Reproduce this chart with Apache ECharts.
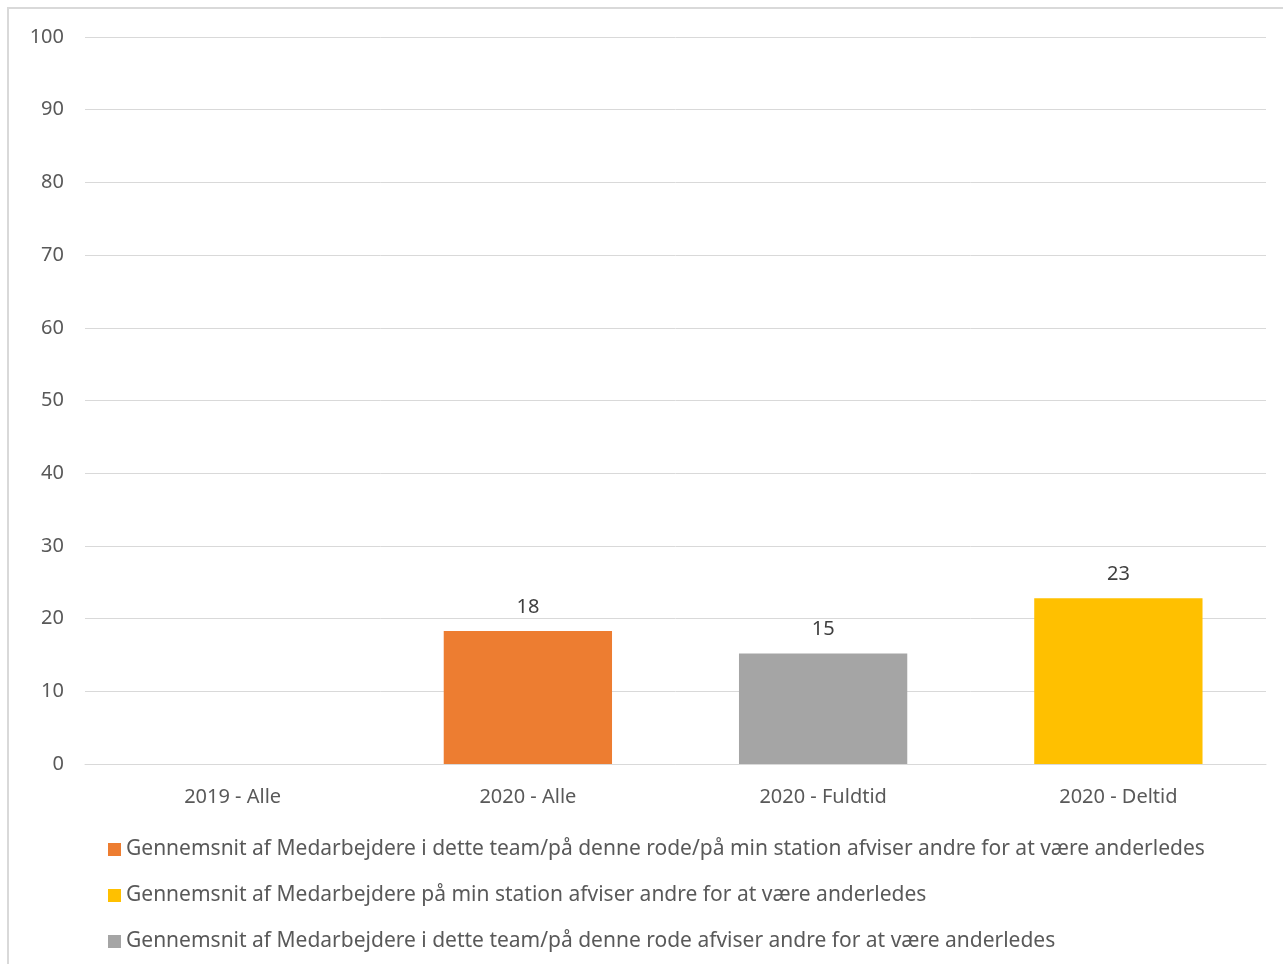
<!DOCTYPE html>
<html>
<head>
<meta charset="utf-8">
<script src="https://cdn.jsdelivr.net/npm/echarts@6/dist/echarts.min.js"></script>
<style>
html,body{margin:0;padding:0;background:#fff;}
#chart{position:absolute;left:0;top:0;width:1283px;height:964px;}
#frame{position:absolute;left:7px;top:7px;width:1276px;height:957px;border-left:2px solid #d9d9d9;border-top:2px solid #d9d9d9;box-sizing:border-box;pointer-events:none;}
</style>
</head>
<body>
<div id="chart"></div>
<div id="frame"></div>
<script>
const categories = ['2019 - Alle', '2020 - Alle', '2020 - Fuldtid', '2020 - Deltid'];
const seriesNames = [
  'Gennemsnit af Medarbejdere i dette team/på denne rode/på min station afviser andre for at være anderledes',
  'Gennemsnit af Medarbejdere på min station afviser andre for at være anderledes',
  'Gennemsnit af Medarbejdere i dette team/på denne rode afviser andre for at være anderledes'
];
const valuesTeamRodeStation = [null, 18.3, null, null];
const valuesStation = [null, null, null, 22.8];
const valuesTeamRode = [null, null, 15.2, null];
const colors = ['#ED7D31', '#FFC000', '#A5A5A5'];
const yTicks = {min: 0, max: 100, interval: 10};

const font = 'Noto Sans';
const textColor = '#595959';
const seriesData = [valuesTeamRodeStation, valuesStation, valuesTeamRode];

const chart = echarts.init(document.getElementById('chart'));
chart.setOption({
  animation: false,
  textStyle: {fontFamily: font},
  grid: {left: 85, right: 17, top: 37, bottom: 200, containLabel: false},
  legend: {
    orient: 'vertical', left: 103, top: 830,
    itemWidth: 13, itemHeight: 13, itemGap: 17,
    icon: 'rect',
    textStyle: {fontFamily: font, fontSize: 21, color: textColor, lineHeight: 29},
    data: seriesNames
  },
  xAxis: {
    type: 'category', data: categories,
    axisLine: {show: true, lineStyle: {color: '#d9d9d9', width: 1}},
    axisTick: {show: false},
    axisLabel: {fontFamily: font, fontSize: 20, color: textColor, margin: 23}
  },
  yAxis: {
    type: 'value', min: yTicks.min, max: yTicks.max, interval: yTicks.interval,
    axisLine: {show: false}, axisTick: {show: false},
    splitLine: {lineStyle: {color: '#d9d9d9', width: 1}},
    axisLabel: {fontFamily: font, fontSize: 20, color: textColor, margin: 21}
  },
  series: seriesNames.map((n, i) => ({
    name: n, type: 'bar', stack: 'all', barWidth: '57%',
    data: seriesData[i],
    itemStyle: {color: colors[i]},
    label: {
      show: true, position: 'top', distance: 14,
      fontFamily: font, fontSize: 20, color: '#404040',
      formatter: p => p.value == null ? '' : Math.round(p.value)
    }
  }))
});
</script>
</body>
</html>
